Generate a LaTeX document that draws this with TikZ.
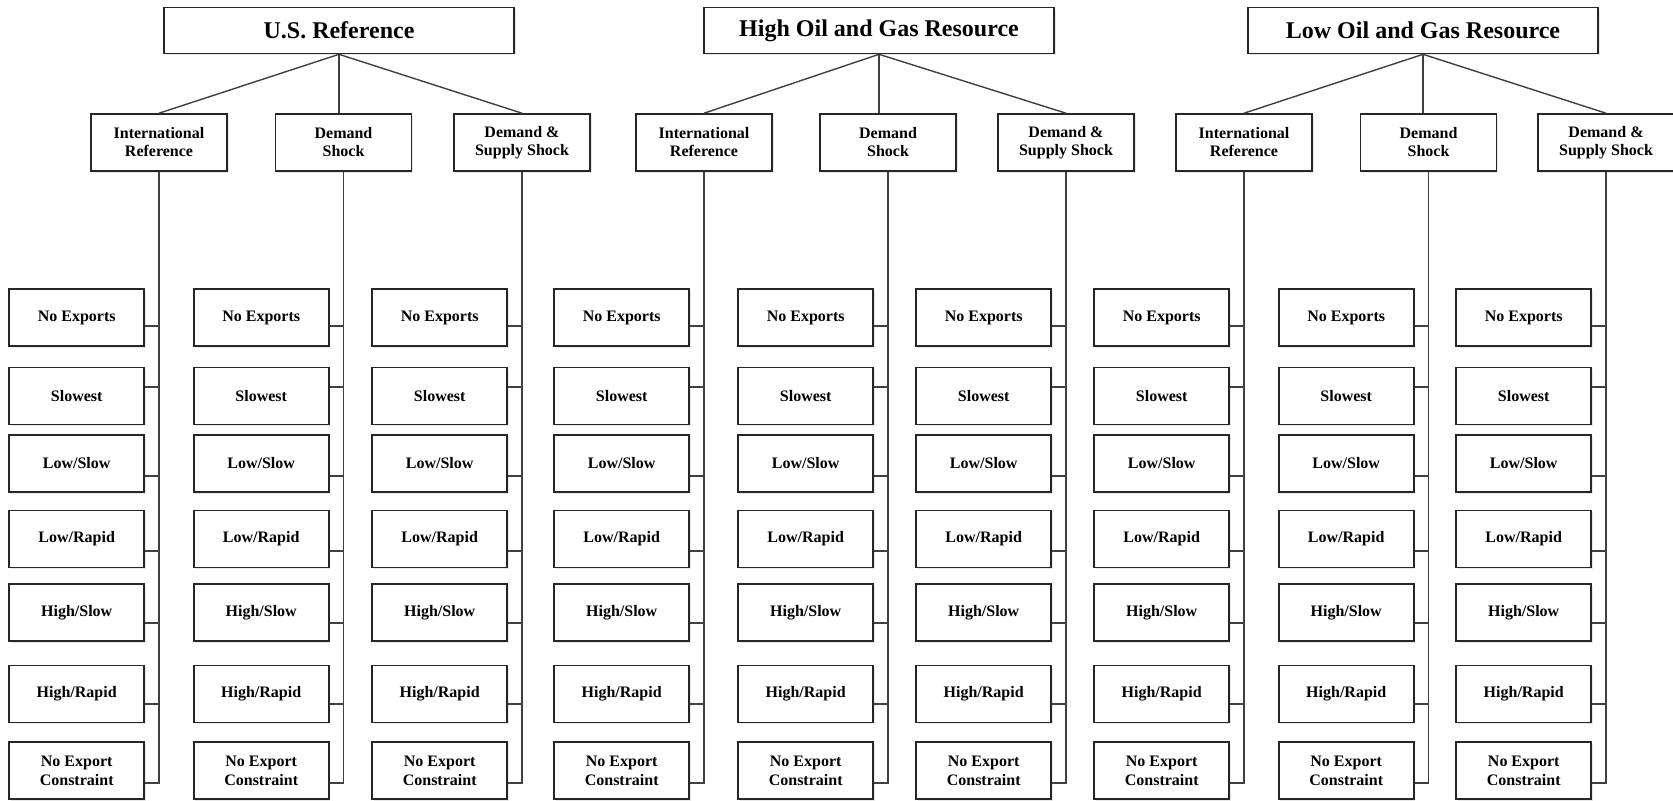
\documentclass[tikz,border=0pt]{standalone}
\usepackage{fontspec}
\setmainfont{Liberation Serif}
\usetikzlibrary{shadows}

\begin{document}
\begin{tikzpicture}[x=0.5pt,y=-0.5pt,
  box/.style={draw=black!85,line width=0.8pt,fill=white,align=center,
    drop shadow={shadow xshift=0.8pt,shadow yshift=-0.8pt,opacity=0.18}},
  scenario/.style={box,minimum width=175pt,minimum height=23pt,
    font=\fontsize{12}{14}\selectfont\bfseries},
  intl/.style={box,minimum width=68pt,minimum height=28.5pt,
    font=\fontsize{8}{9}\selectfont\bfseries},
  case/.style={box,minimum width=67.5pt,minimum height=28.5pt,anchor=east,
    font=\fontsize{8}{9.5}\selectfont\bfseries},
  link/.style={draw=black!75,line width=0.7pt}]
  \useasboundingbox (0,0) rectangle (1673,800);

  % rows of the export cases
  \foreach \ry [count=\i] in {317.5,396,463.5,539,612.5,694,770.5}
    \coordinate (row\i) at (0,\ry);

  % U.S. scenarios and the international cases under them
  \foreach \g/\gx/\xa/\xb/\xc/\name in {a/339/159/343.5/522/U.S. Reference,
      b/879/704/888/1066/High Oil and Gas Resource,
      c/1423/1244/1428.5/1606/Low Oil and Gas Resource}{
    \node[scenario] (\g) at (\gx,30.5) {\name};
    \node[intl] (\g1) at (\xa,142.5) {International\\Reference};
    \node[intl] (\g2) at (\xb,142.5) {Demand\\Shock};
    \node[intl] (\g3) at (\xc,142.5) {Demand \&\\Supply Shock};
    \draw[link] (\g.south) -- (\g1.north);
    \draw[link] (\g.south) -- (\g.south |- \g2.north);
    \draw[link] (\g.south) -- (\g3.north);
  }

  % export cases, hung on the line below each box
  \foreach \g in {a,b,c}
    \foreach \k in {1,2,3}
      \foreach \lab/\dy [count=\i] in {No Exports/-4.25pt,Slowest/4.5pt,
          {Low/Slow}/-6.25pt,{Low/Rapid}/-6pt,{High/Slow}/-5.25pt,
          {High/Rapid}/-5pt,{No Export\\Constraint}/-6.25pt}{
        \path (\g\k.south |- row\i) ++(-14,0) node[case] (\g\k-\i) {\lab};
        \draw[link] ([yshift=\dy]\g\k-\i.east) -| (\g\k.south);
      }
\end{tikzpicture}
\end{document}
